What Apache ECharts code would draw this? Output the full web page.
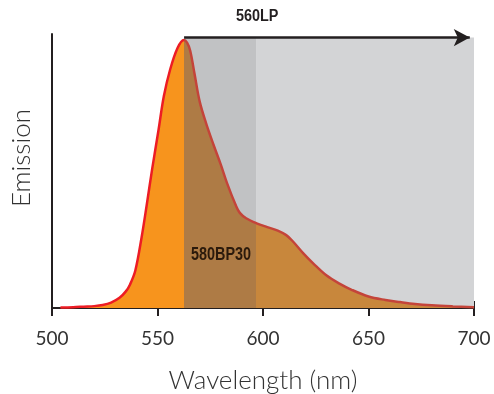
<!DOCTYPE html>
<html>
<head>
<meta charset="utf-8">
<script src="https://cdn.jsdelivr.net/npm/echarts@6/dist/echarts.min.js"></script>
<style>
  html, body { margin: 0; padding: 0; background: #fff; }
  #chart { width: 494px; height: 394px; }
</style>
</head>
<body>
<div id="chart"></div>
<script>
// emission spectrum (normalised to peak = 1)
const wavelengths = [504, 510, 515, 520, 524, 528, 532, 535, 537, 539.5, 542.5, 545, 547.5, 550.5, 553, 556, 559.5,
    562.5, 564, 565.5, 567.5, 570, 573, 576.5, 580, 583, 587, 589, 592, 597, 602, 607, 611, 614, 619, 624,
    630, 636, 642, 650, 658, 665, 672, 680, 690, 700];
const emission = [0.002, 0.003, 0.005, 0.007, 0.011, 0.02, 0.038, 0.062, 0.088, 0.14, 0.265, 0.39, 0.52, 0.665, 0.79, 0.89, 0.97,
    1.0, 0.99, 0.96, 0.876, 0.77, 0.69, 0.61, 0.535, 0.465, 0.385, 0.355, 0.335, 0.316, 0.302, 0.289, 0.272, 0.25, 0.205, 0.165,
    0.122, 0.092, 0.068, 0.043, 0.03, 0.022, 0.015, 0.01, 0.006, 0.003];

const xMin = 500;
const xMax = 700;
const xStep = 50;

// filters
const longpassName = "560LP";
const longpassRange = [562.6, 700];
const bandpassName = "580BP30";
const bandpassRange = [562.6, 596.7];
const filterTop = 1.009;

const chart = echarts.init(document.getElementById("chart"));
const curve = wavelengths.map((w, i) => [w, emission[i]]);
const font = "Lato";

const option = {
    animation: false,
    grid: { left: 52, right: 20, top: 34, bottom: 86, outerBoundsMode: "none" },
    xAxis: [{
        type: "value",
        min: xMin, max: xMax, interval: xStep,
        name: "Wavelength (nm)",
        nameLocation: "middle",
        nameGap: 60,
        nameTextStyle: { fontFamily: font, fontWeight: 300, fontSize: 26, color: "#333" },
        axisLine: { show: true, lineStyle: { color: "#231f20", width: 2 } },
        axisTick: { show: true, length: 8, lineStyle: { color: "#231f20", width: 2 } },
        axisLabel: { fontFamily: font, fontSize: 19, color: "#333", margin: 21 },
        splitLine: { show: false }
    }, {
        type: "value",
        position: "bottom",
        min: xMin, max: xMax, interval: xStep,
        axisLine: { show: false },
        axisTick: { show: true, inside: true, length: 7, lineStyle: { color: "#231f20", width: 2 } },
        axisLabel: { show: false },
        splitLine: { show: false }
    }],
    yAxis: {
        type: "value",
        min: 0, max: 1.0224,
        axisLine: { show: true, lineStyle: { color: "#231f20", width: 2 } },
        axisTick: { show: false },
        axisLabel: { show: false },
        splitLine: { show: false }
    },
    visualMap: [{
        type: "piecewise", show: false, dimension: 0, seriesIndex: 1,
        pieces: [
            { gte: xMin, lt: bandpassRange[0], color: "#f7941d" },
            { gte: bandpassRange[0], lt: bandpassRange[1], color: "#ae7b45" },
            { gte: bandpassRange[1], lte: xMax, color: "#c8873c" }
        ]
    }, {
        type: "piecewise", show: false, dimension: 0, seriesIndex: 2,
        pieces: [
            { gte: xMin, lt: longpassRange[0], color: "#ed1c24" },
            { gte: longpassRange[0], lte: xMax, color: "#c4443a" }
        ]
    }],
    series: [{
        // filter windows behind the spectrum
        type: "line",
        data: [],
        z: 1,
        silent: true,
        markArea: {
            silent: true,
            data: [
                [{ xAxis: bandpassRange[0], yAxis: 0, itemStyle: { color: "#c1c2c4" } }, { xAxis: bandpassRange[1], yAxis: filterTop }],
                [{ xAxis: bandpassRange[1], yAxis: 0, itemStyle: { color: "#d3d4d6" } }, { xAxis: longpassRange[1], yAxis: filterTop }]
            ]
        }
    }, {
        type: "line",
        data: curve,
        z: 2,
        smooth: 0.35,
        showSymbol: false,
        silent: true,
        lineStyle: { width: 0 },
        areaStyle: { opacity: 1 }
    }, {
        type: "line",
        data: curve,
        z: 3,
        smooth: 0.35,
        showSymbol: false,
        silent: true,
        lineStyle: { width: 2.5 }
    }, {
        // long-pass arrow
        type: "line",
        data: [],
        z: 4,
        markLine: {
            silent: true,
            symbol: ["none", "arrow"],
            symbolSize: [13, 16],
            label: { show: false },
            lineStyle: { color: "#231f20", width: 2.5, type: "solid" },
            data: [[{ coord: [longpassRange[0], filterTop] }, { coord: [698, filterTop] }]]
        }
    }]
};

chart.setOption(option);

// filter names, placed in data space
const lpPos = chart.convertToPixel({ xAxisIndex: 0, yAxisIndex: 0 }, [597.2, 1.086]);
const bpPos = chart.convertToPixel({ xAxisIndex: 0, yAxisIndex: 0 }, [580.1, 0.198]);

chart.setOption({
    graphic: [{
        type: "text", x: lpPos[0], y: lpPos[1], scaleX: 0.9, z: 100, silent: true,
        style: { text: longpassName, x: 0, y: 0, align: "center", verticalAlign: "middle",
            font: "bold 16px 'Liberation Sans'", fill: "#231f20" }
    }, {
        type: "text", x: bpPos[0], y: bpPos[1], scaleX: 0.8, z: 100, silent: true,
        style: { text: bandpassName, x: 0, y: 0, align: "center", verticalAlign: "middle",
            font: "bold 18px 'Liberation Sans'", fill: "#2b1a0c" }
    }, {
        type: "text", x: 22, y: 158, rotation: Math.PI / 2, z: 100, silent: true,
        style: { text: "Emission", x: 0, y: 0, align: "center", verticalAlign: "middle",
            font: "300 26px Lato", fill: "#333" }
    }]
});
</script>
</body>
</html>
